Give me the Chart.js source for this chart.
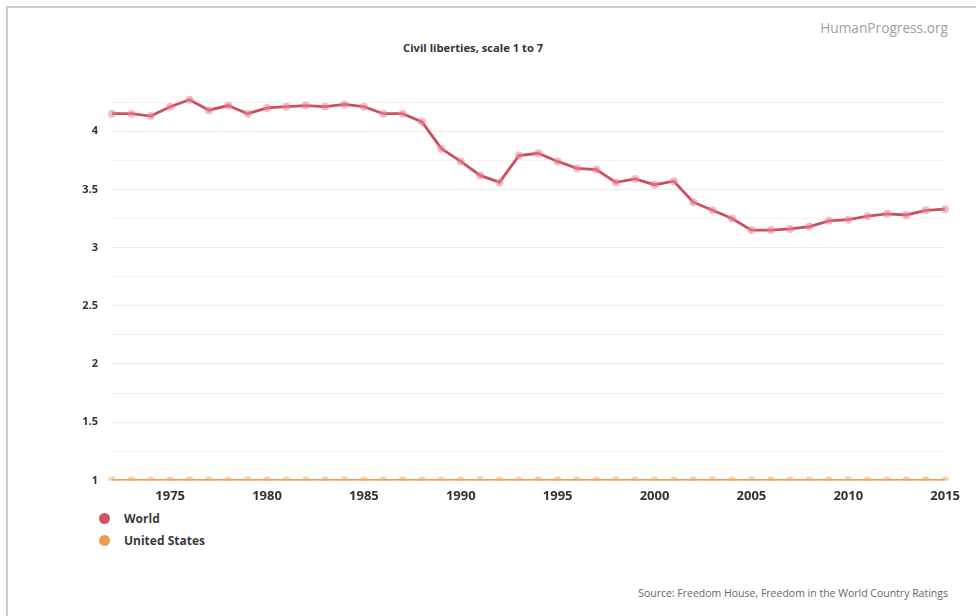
<!DOCTYPE html>
<html>
<head>
<meta charset="utf-8">
<script src="https://cdn.jsdelivr.net/npm/chart.js@4.4.1/dist/chart.umd.min.js"></script>
<style>
    body { margin: 0; background: #fff; font-family: "Open Sans", sans-serif; }
    #page { position: relative; width: 976px; height: 616px; overflow: hidden; }
    #frame { position: absolute; left: 6px; top: 6px; width: 990px; height: 640px; border-left: 2px solid #ccc; border-top: 2px solid #ccc; }
    #brand { position: absolute; right: 28px; top: 18px; font-size: 13.7px; color: #a0a0a0; }
    #title { position: absolute; left: 403px; top: 40px; font-size: 11.2px; font-weight: bold; color: #333; }
    #chartBox { position: absolute; left: 60px; top: 64px; width: 900px; height: 440px; }
    #legend { position: absolute; left: 99px; top: 507px; }
    .legend-item { display: flex; align-items: center; height: 22px; font-size: 12px; font-weight: bold; color: #3a3a3a; }
    .legend-dot { width: 11px; height: 11px; border-radius: 50%; margin-right: 14px; }
    #source { position: absolute; right: 28px; top: 586px; font-size: 10.5px; color: #666; }
</style>
</head>
<body>
<div id="page">
    <div id="frame"></div>
    <div id="brand">HumanProgress.org</div>
    <div id="title">Civil liberties, scale 1 to 7</div>
    <div id="chartBox"><canvas id="libertiesChart"></canvas></div>
    <div id="legend"></div>
    <div id="source">Source: Freedom House, Freedom in the World Country Ratings</div>
</div>
<script>
// Colors
const colors = {
    worldLine: '#c9505d',
    worldPoint: 'rgba(236, 130, 145, 0.55)',
    worldDot: '#d2545f',
    usLine: '#e9a053',
    usPoint: 'rgba(242, 175, 105, 0.6)',
    usDot: '#e9a053',
    grid: '#ebebeb',
    gridMinor: '#f4f4f4',
    text: '#333'
};

// Data
const years = [
    1972, 1973, 1974, 1975, 1976, 1977, 1978, 1979, 1980, 1981,
    1982, 1983, 1984, 1985, 1986, 1987, 1988, 1989, 1990, 1991,
    1992, 1993, 1994, 1995, 1996, 1997, 1998, 1999, 2000, 2001,
    2002, 2003, 2004, 2005, 2006, 2007, 2008, 2009, 2010, 2011,
    2012, 2013, 2014, 2015
];

const worldValues = [
    4.15, 4.15, 4.13, 4.21, 4.27, 4.18, 4.22, 4.15, 4.20, 4.21,
    4.22, 4.21, 4.23, 4.21, 4.15, 4.15, 4.08, 3.85, 3.74, 3.62,
    3.56, 3.79, 3.81, 3.74, 3.68, 3.67, 3.56, 3.59, 3.54, 3.57,
    3.39, 3.32, 3.25, 3.15, 3.15, 3.16, 3.18, 3.23, 3.24, 3.27,
    3.29, 3.28, 3.32, 3.33
];

const usValues = [
    1, 1, 1, 1, 1, 1, 1, 1, 1, 1,
    1, 1, 1, 1, 1, 1, 1, 1, 1, 1,
    1, 1, 1, 1, 1, 1, 1, 1, 1, 1,
    1, 1, 1, 1, 1, 1, 1, 1, 1, 1,
    1, 1, 1, 1
];

const yTicks = [1, 1.25, 1.5, 1.75, 2, 2.25, 2.5, 2.75, 3, 3.25, 3.5, 3.75, 4, 4.25];

const seriesNames = ['World', 'United States'];

let charts = {};

function initChart() {
    const ctx = document.getElementById('libertiesChart').getContext('2d');
    charts.liberties = new Chart(ctx, {
        type: 'line',
        data: {
            labels: years,
            datasets: [{
                label: seriesNames[0],
                data: worldValues,
                borderColor: colors.worldLine,
                borderWidth: 2.8,
                pointRadius: 4,
                pointBackgroundColor: colors.worldPoint,
                pointBorderWidth: 0,
                tension: 0
            }, {
                label: seriesNames[1],
                data: usValues,
                borderColor: colors.usLine,
                borderWidth: 2.8,
                pointRadius: 4,
                pointBackgroundColor: colors.usPoint,
                pointBorderWidth: 0,
                tension: 0
            }]
        },
        options: {
            responsive: true,
            maintainAspectRatio: false,
            animation: false,
            layout: { padding: { top: 1, right: 11 } },
            scales: {
                x: {
                    grid: { display: false },
                    border: { display: false },
                    ticks: {
                        autoSkip: false,
                        maxRotation: 0,
                        padding: 0,
                        color: colors.text,
                        font: { family: 'Open Sans', size: 13, weight: 'bold' },
                        callback: function(value, index) {
                            const y = years[index];
                            return y % 5 === 0 ? String(y) : '';
                        }
                    }
                },
                y: {
                    min: 1,
                    max: 4.4,
                    afterBuildTicks: function(scale) {
                        scale.ticks = yTicks.map(v => ({ value: v }));
                    },
                    afterFit: function(scale) {
                        scale.width = 52;
                    },
                    grid: {
                        drawTicks: false,
                        color: function(c) {
                            return (c.tick && c.tick.value % 0.5 === 0) ? colors.grid : colors.gridMinor;
                        }
                    },
                    border: { display: false },
                    ticks: {
                        padding: 14,
                        color: colors.text,
                        font: { family: 'Open Sans', size: 11, weight: 'bold' },
                        callback: function(value) {
                            return value % 0.5 === 0 ? String(value) : '';
                        }
                    }
                }
            },
            plugins: {
                legend: { display: false },
                tooltip: { enabled: false }
            }
        }
    });

    buildLegend();
}

function buildLegend() {
    const legend = document.getElementById('legend');
    const dots = [colors.worldDot, colors.usDot];
    legend.innerHTML = charts.liberties.data.datasets.map((ds, i) => `
        <div class="legend-item"><span class="legend-dot" style="background:${dots[i]}"></span>${ds.label}</div>
    `).join('');
}

initChart();
</script>
</body>
</html>
